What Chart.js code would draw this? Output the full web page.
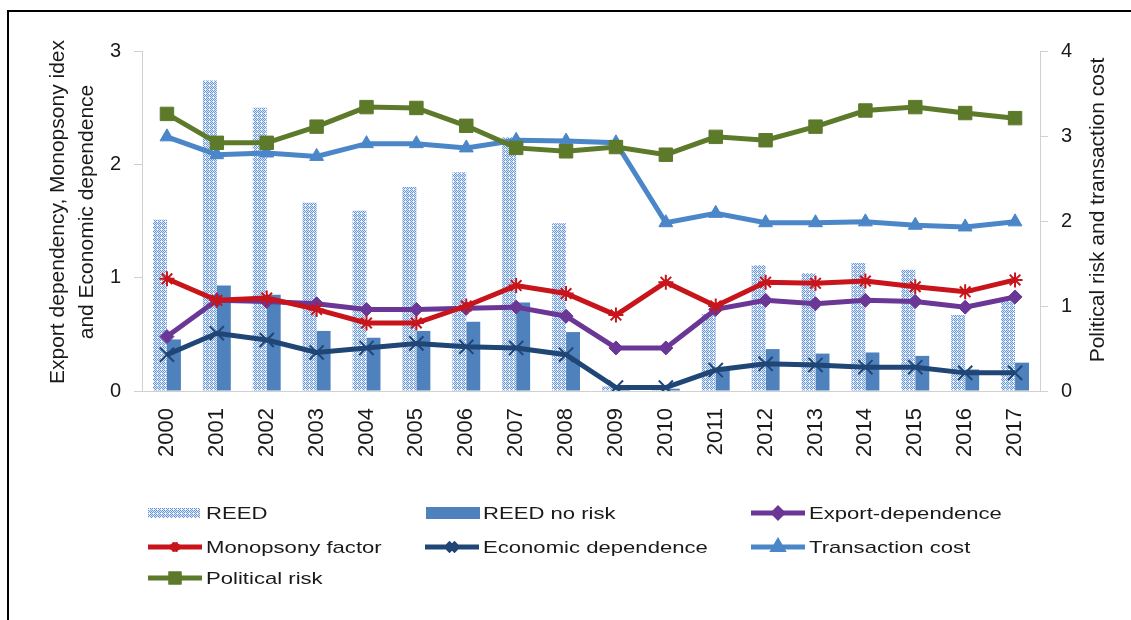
<!DOCTYPE html>
<html>
<head>
<meta charset="utf-8">
<script src="https://cdn.jsdelivr.net/npm/chart.js"></script>
<style>
  body { margin: 0; background: #fff; }
  .wrap { position: relative; width: 1131px; height: 620px; overflow: hidden; }
  .frame { position: absolute; left: 7px; top: 10px; width: 1200px; height: 700px;
           border-top: 2px solid #000; border-left: 2px solid #000; }
  canvas { position: absolute; left: 0; top: 0; }
</style>
</head>
<body>
<div class="wrap">
  <div class="frame"></div>
  <canvas id="chart" width="1131" height="620"></canvas>
</div>
<script>
const years = ['2000','2001','2002','2003','2004','2005','2006','2007','2008',
               '2009','2010','2011','2012','2013','2014','2015','2016','2017'];

const reed          = [1.51, 2.74, 2.50, 1.66, 1.59, 1.80, 1.93, 2.24, 1.48, 0.04, 0.04, 0.68, 1.11, 1.04, 1.13, 1.07, 0.67, 0.82];
const reedNoRisk    = [0.455, 0.93, 0.85, 0.53, 0.47, 0.53, 0.61, 0.78, 0.52, 0.01, 0.02, 0.19, 0.37, 0.33, 0.34, 0.31, 0.19, 0.25];
const exportDep     = [0.48, 0.80, 0.79, 0.77, 0.72, 0.72, 0.73, 0.74, 0.66, 0.38, 0.38, 0.72, 0.80, 0.77, 0.80, 0.79, 0.74, 0.83];
const monopsony     = [0.99, 0.80, 0.82, 0.72, 0.60, 0.60, 0.75, 0.93, 0.86, 0.67, 0.96, 0.75, 0.96, 0.95, 0.97, 0.92, 0.875, 0.98];
const econDep       = [0.32, 0.51, 0.45, 0.34, 0.38, 0.42, 0.39, 0.38, 0.32, 0.03, 0.03, 0.185, 0.24, 0.23, 0.21, 0.21, 0.16, 0.16];
const transCost     = [2.99, 2.78, 2.80, 2.76, 2.91, 2.91, 2.86, 2.95, 2.94, 2.92, 1.98, 2.09, 1.98, 1.98, 1.99, 1.95, 1.93, 1.99];
const politicalRisk = [3.26, 2.92, 2.92, 3.11, 3.34, 3.33, 3.12, 2.86, 2.82, 2.87, 2.78, 2.99, 2.95, 3.11, 3.30, 3.34, 3.27, 3.21];

const leftTicks = [0, 1, 2, 3];
const rightTicks = [0, 1, 2, 3, 4];
const leftTitle = ['Export dependency, Monopsony idex', 'and Economic dependence'];
const rightTitle = 'Political risk and transaction cost';

const FONT = '"Liberation Sans", Arial, sans-serif';
const canvas = document.getElementById('chart');
const ctx = canvas.getContext('2d');

// dotted fill like the excel pattern bars
function makeDotPattern() {
    const c = document.createElement('canvas');
    c.width = 4; c.height = 4;
    const g = c.getContext('2d');
    g.fillStyle = '#dfe9f7';
    g.fillRect(0, 0, 4, 4);
    g.fillStyle = '#6a98d6';
    for (let y = 0; y < 4; y++) {
        for (let x = 0; x < 4; x++) {
            if ((x + y) % 2 === 0) g.fillRect(x, y, 1, 1);
        }
    }
    g.fillStyle = '#ffffff';
    g.fillRect(1, 1, 1, 1);
    return ctx.createPattern(c, 'repeat');
}
const dotPattern = makeDotPattern();

function lineSet(label, data, color, style, radius, bw, axis, order) {
    return {
        type: 'line', label, data, yAxisID: axis, order,
        borderColor: color, backgroundColor: color, borderWidth: 5,
        pointStyle: style, pointRadius: radius, pointBorderWidth: bw,
        pointBackgroundColor: color, pointBorderColor: color,
        tension: 0, fill: false
    };
}

const datasets = [
    { type: 'bar', label: 'REED', data: reed, yAxisID: 'y', order: 10,
      backgroundColor: dotPattern, categoryPercentage: 0.56, barPercentage: 1 },
    { type: 'bar', label: 'REED no risk', data: reedNoRisk, yAxisID: 'y', order: 11,
      backgroundColor: '#4f81bd', categoryPercentage: 0.56, barPercentage: 1 },
    lineSet('Export-dependence', exportDep, '#6b3796', 'rectRot', 7, 1, 'y', 4),
    lineSet('Monopsony factor', monopsony, '#c8141b', 'star', 7.5, 2, 'y', 2),
    lineSet('Economic dependence', econDep, '#1f4675', 'crossRot', 10, 2, 'y', 5),
    lineSet('Transaction cost', transCost, '#4a86c8', 'triangle', 8, 1, 'y1', 3),
    lineSet('Political risk', politicalRisk, '#5d7a2b', 'rect', 9.5, 1, 'y1', 1)
];

// legend grid + rotated axis titles
const legendCols = [148, 425, 751];
const legendRows = [513, 547, 578];

const extrasPlugin = {
    id: 'extras',
    afterDraw(chart) {
        const c = chart.ctx;
        c.save();
        c.fillStyle = '#1a1a1a';
        c.font = '21px ' + FONT;
        c.textAlign = 'center';
        c.textBaseline = 'middle';
        c.save();
        c.translate(58, 212);
        c.rotate(-Math.PI / 2);
        c.fillText(leftTitle[0], 0, 0);
        c.fillText(leftTitle[1], 0, 29);
        c.restore();
        c.save();
        c.translate(1098, 210);
        c.rotate(-Math.PI / 2);
        c.fillText(rightTitle, 0, 0);
        c.restore();

        chart.data.datasets.forEach((ds, i) => {
            const x = legendCols[i % 3];
            const y = legendRows[Math.floor(i / 3)];
            let textX = x + 58;
            if (ds.type === 'bar') {
                c.fillStyle = ds.backgroundColor;
                if (i === 0) c.fillRect(x, y - 5, 52, 10);
                else c.fillRect(x + 1, y - 6, 54, 12);
            } else {
                c.strokeStyle = ds.borderColor;
                c.lineWidth = 5;
                c.beginPath();
                c.moveTo(x, y);
                c.lineTo(x + 54, y);
                c.stroke();
                Chart.helpers.drawPoint(c, {
                    pointStyle: ds.pointStyle,
                    radius: ds.pointRadius * 0.6,
                    rotation: 0,
                    borderWidth: ds.pointBorderWidth
                }, x + 27, y);
                c.fillStyle = ds.borderColor;
                c.fill();
                c.stroke();
            }
            c.save();
            c.fillStyle = '#1a1a1a';
            c.font = '17px ' + FONT;
            c.textAlign = 'left';
            c.textBaseline = 'middle';
            c.translate(textX, y);
            c.scale(1.3, 1);
            c.fillText(ds.label, 0, 1);
            c.restore();
        });
        c.restore();
    }
};

new Chart(ctx, {
    data: { labels: years, datasets },
    options: {
        responsive: false,
        animation: false,
        devicePixelRatio: 1,
        layout: { padding: { top: 51, left: 0, right: 0, bottom: 0 } },
        plugins: { legend: { display: false }, tooltip: { enabled: false } },
        scales: {
            x: {
                offset: true,
                grid: { display: false, drawTicks: false },
                border: { display: true, color: '#d0d0d0', width: 1 },
                ticks: { minRotation: 90, maxRotation: 90, autoSkip: false, padding: 17,
                         color: '#1a1a1a', font: { size: 22, family: FONT } },
                afterFit: scale => { scale.height = 229; }
            },
            y: {
                position: 'left', min: 0, max: 3,
                afterBuildTicks: scale => { scale.ticks = leftTicks.map(v => ({ value: v })); },
                grid: { drawOnChartArea: false, drawTicks: true, tickLength: 8, color: '#d0d0d0' },
                border: { color: '#d0d0d0' },
                ticks: { padding: 13, color: '#1a1a1a', font: { size: 20, family: FONT } },
                afterFit: scale => { scale.width = 142; }
            },
            y1: {
                position: 'right', min: 0, max: 4,
                afterBuildTicks: scale => { scale.ticks = rightTicks.map(v => ({ value: v })); },
                grid: { drawOnChartArea: false, drawTicks: true, tickLength: 8, color: '#d0d0d0' },
                border: { color: '#d0d0d0' },
                ticks: { padding: 13, color: '#1a1a1a', font: { size: 20, family: FONT } },
                afterFit: scale => { scale.width = 91; }
            }
        }
    },
    plugins: [extrasPlugin]
});
</script>
</body>
</html>
